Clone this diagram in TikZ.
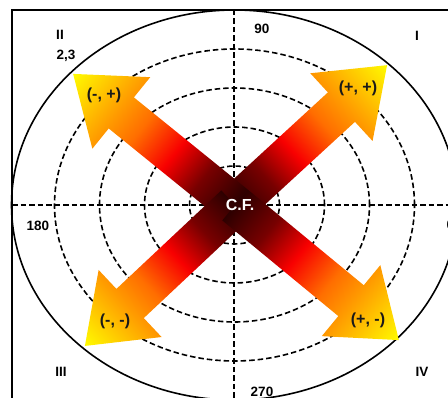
\documentclass[tikz,border=0pt]{standalone}
\usepackage{fontspec}
\setmainfont{Liberation Sans}
\definecolor{g0}{RGB}{45,0,0}
\definecolor{g1}{RGB}{120,0,0}
\definecolor{g2}{RGB}{248,0,0}
\definecolor{g3}{RGB}{255,110,0}
\definecolor{g4}{RGB}{255,155,0}
\definecolor{g5}{RGB}{255,252,0}
\pgfdeclarehorizontalshading{arrowgrad}{100bp}{color(0bp)=(g0); color(25bp)=(g0); color(35bp)=(g1); color(44bp)=(g2); color(54bp)=(g3); color(61bp)=(g4); color(75bp)=(g5); color(100bp)=(g5)}
\newcommand{\cfarrow}[2]{%
  \begin{scope}[transform canvas={shift={(235pt,193pt)}, rotate=#1}]
    \shade[shading=arrowgrad] (0,20) -- ({#2-62},20) -- ({#2-62},46) -- (#2,0)
      -- ({#2-62},-46) -- ({#2-62},-20) -- (0,-20) -- cycle;
  \end{scope}}
\begin{document}
\begin{tikzpicture}[x=1pt,y=1pt,
  gridline/.style={draw=black, line width=1.6pt, dash pattern=on 5.5pt off 3pt},
  lab/.style={font=\bfseries\fontsize{13.5}{14}\selectfont, inner sep=0pt},
  sig/.style={font=\bfseries\fontsize{16}{17}\selectfont, text=black!90, inner sep=0pt},
  cf/.style={font=\bfseries\fontsize{16}{17}\selectfont, text=white, inner sep=0pt}]
\path[use as bounding box] (0,0) rectangle (448,398);
\begin{scope}
\clip (0,0) rectangle (448,398);
\coordinate (C) at (234.5,193);
\foreach \k in {1,...,4}
  \draw[gridline] (C) ellipse [x radius={\k*45pt}, y radius={\k*39pt}];
\coordinate (hl) at (12,193);
\coordinate (hr) at (450,193);
\coordinate (vt) at (234,388);
\coordinate (vb) at (234,-2);
\draw[gridline] (hl) -- (hr);
\draw[gridline] (vt) -- (vb);
\draw[line width=1.6pt] (C) ellipse [x radius=223pt, y radius=195pt];
\coordinate (f1) at (12,-2);
\coordinate (f2) at (12,388);
\coordinate (f3) at (450,388);
\draw[line width=2pt] (f1) -- (f2) -- (f3);
\cfarrow{42.6}{206.6}
\cfarrow{141.0}{208.3}
\cfarrow{223.2}{205.9}
\cfarrow{-39.5}{212.4}
\node[lab] (q1) at (417,362) {I};
\node[lab] (q2) at (60,363) {II};
\node[lab] (q3) at (61,26) {III};
\node[lab] (q4) at (422,26) {IV};
\node[lab] (a90) at (262,369) {90};
\node[lab] (a180) at (38,172) {180};
\node[lab] (a270) at (262,6.5) {270};
\node[lab] (a0) at (450.5,173) {0};
\node[lab] (p23) at (66,342) {2,3};
\node[sig] (pp) at (358,310) {(+, +)};
\node[sig] (mp) at (104,303) {(-, +)};
\node[sig] (mm) at (115,77) {(-, -)};
\node[sig] (pm) at (368,78) {(+, -)};
\node[cf] (cfn) at (240,193) {C.F.};
\end{scope}
\end{tikzpicture}
\end{document}
